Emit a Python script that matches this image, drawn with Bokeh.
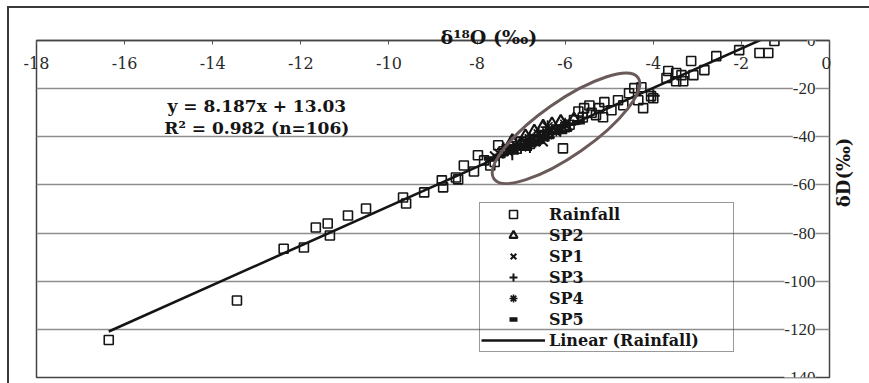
import math
from bokeh.plotting import figure
from bokeh.layouts import row
from bokeh.models import (ColumnDataSource, LabelSet, Label, Legend, LegendItem,
                          FixedTicker, Range1d, LinearAxis, Grid)
from bokeh.embed import file_html
from bokeh.resources import INLINE

# ---------------- data ----------------
rain_x = [-16.36, -13.45, -12.39, -11.93, -11.66, -11.39, -11.34, -10.93, -10.52, -9.68,
          -9.61, -9.2, -8.80, -8.77, -8.48, -8.43, -8.30, -8.07, -7.98, -7.84,
          -7.70, -7.60, -7.52, -6.05, -5.57, -5.23, -5.11, -5.14, -4.95, -4.80,
          -4.68, -4.55, -4.43, -4.27, -4.23, -4.34, -4.05, -4.0, -3.70, -3.66,
          -3.48, -3.36, -3.09, -3.48, -3.32, -3.14, -2.84, -2.57, -2.05, -1.59,
          -1.39, -1.25, -7.4, -7.2, -7.0, -6.8, -6.6, -6.4, -6.2, -6.0,
          -5.8, -5.6, -5.9, -6.7, -7.1, -5.4, -5.3, -5.7, -5.45]
rain_y = [-124.4, -108.0, -86.5, -86.0, -77.7, -76.0, -81.0, -72.7, -69.8, -65.2,
          -67.7, -63.1, -58.1, -61.0, -56.9, -57.7, -51.9, -54.4, -47.7, -49.8,
          -51.9, -50.5, -43.5, -44.8, -28.1, -28.1, -25.6, -31.9, -29.0, -24.8,
          -26.9, -21.9, -19.8, -19.4, -28.1, -24.8, -23.1, -24.0, -15.6, -12.7,
          -13.5, -14.4, -14.4, -16.9, -16.9, -8.5, -12.3, -6.5, -4.0, -5.2,
          -5.2, -0.2, -46.0, -44.0, -42.0, -43.0, -40.0, -38.0, -37.0, -36.0,
          -33.0, -32.0, -35.0, -41.0, -45.0, -30.0, -31.0, -29.5, -27.0]

sp2_x = [-6.5, -6.3, -6.7, -6.1, -6.9, -7.2, -6.0, -5.8, -6.4, -7.0]
sp2_y = [-36.0, -35.0, -38.0, -34.0, -40.0, -42.0, -36.0, -33.0, -39.0, -43.0]
sp1_x = [-7.3, -7.1, -6.9, -6.6, -6.4, -7.5, -6.2, -6.8, -7.6, -6.5]
sp1_y = [-46.0, -44.0, -43.0, -41.0, -39.0, -47.0, -38.0, -42.0, -48.0, -42.0]
sp3_x = [-7.4, -7.0, -6.6, -6.3, -5.9, -5.6, -4.0, -7.2, -6.8]
sp3_y = [-45.0, -43.0, -40.0, -38.0, -35.0, -32.0, -23.0, -47.0, -44.0]
sp4_x = [-6.4, -6.2, -6.6, -6.8, -7.0, -7.3, -6.0, -6.5, -6.9]
sp4_y = [-36.0, -37.0, -39.0, -41.0, -44.0, -45.0, -35.0, -40.0, -42.0]
sp5_x = [-7.5, -7.2, -6.9, -6.5, -6.1, -5.7, -7.7, -7.3, -6.7]
sp5_y = [-48.0, -46.0, -45.0, -41.0, -38.0, -34.0, -49.0, -44.0, -43.0]

slope = 8.187
intercept = 13.03

x_ticks = [-18, -16, -14, -12, -10, -8, -6, -4, -2, 0]
x_tick_labels = ["-18", "-16", "-14", "-12", "-10", "-8", "-6", "-4", "-2", "0"]
y_ticks = [0, -20, -40, -60, -80, -100, -120, -140]
y_tick_labels = ["0", "-20", "-40", "-60", "-80", "-100", "-120", "-140"]

ellipse_center_x = -5.98
ellipse_center_y = -36.5

# ---------------- figure ----------------
INK = "#151515"
SERIF = "DejaVu Serif"


def hide_default_grids(fig):
    for r in list(fig.center):
        if isinstance(r, Grid):
            r.visible = False


p = figure(width=822, height=375, x_range=Range1d(-18, 0), y_range=Range1d(-140, 0),
           output_backend="svg", toolbar_location=None,
           x_axis_location=None, y_axis_location=None,
           min_border_left=27, min_border_right=2, min_border_top=32, min_border_bottom=6)
hide_default_grids(p)
p.background_fill_color = "white"
p.border_fill_color = "white"
p.outline_line_color = "#444444"
p.outline_line_width = 1.5

# grid
p.add_layout(Grid(dimension=1, ticker=FixedTicker(ticks=y_ticks),
                  grid_line_color="#8e8e8e", grid_line_width=1.4))

# top x axis with labels drawn just inside the frame
xax = LinearAxis(ticker=FixedTicker(ticks=x_ticks),
                 major_label_overrides={t: l for t, l in zip(x_ticks, x_tick_labels)},
                 major_label_standoff=-28,
                 major_label_text_font=SERIF, major_label_text_font_size="16px",
                 major_label_text_color="#2a2a2a",
                 axis_line_color="#444444", axis_line_width=1.5,
                 major_tick_in=4, major_tick_out=0, major_tick_line_color="#555555",
                 minor_tick_line_color=None)
p.add_layout(xax, "above")

# x-axis title (sits on the top axis line)
p.title.text = "δ¹⁸O (‰)"
p.title.align = "left"
p.title.offset = 404
p.title.standoff = -14
p.title.vertical_align = "bottom"
p.title.text_font = SERIF
p.title.text_font_style = "bold"
p.title.text_font_size = "19px"
p.title.text_color = INK

# y tick labels next to the right-hand axis
ysrc = ColumnDataSource(dict(x=[0] * len(y_ticks), y=y_ticks, text=y_tick_labels))
p.add_layout(LabelSet(x="x", y="y", text="text", source=ysrc, x_offset=-14,
                      text_align="right", text_baseline="middle",
                      text_font="Lato", text_font_size="17px", text_color="#2a2a2a",
                      background_fill_color="white"))

# series
r_rain = p.scatter(rain_x, rain_y, marker="square", size=9, line_color=INK,
                   fill_alpha=0, line_width=1.6)
r_sp2 = p.scatter(sp2_x, sp2_y, marker="triangle", size=13, line_color=INK,
                  fill_alpha=0, line_width=2.2)
r_sp1 = p.scatter(sp1_x, sp1_y, marker="x", size=13, line_color=INK, line_width=2.0)
r_sp3 = p.scatter(sp3_x, sp3_y, marker="cross", size=13, line_color=INK, line_width=2.0)
r_sp4 = p.scatter(sp4_x, sp4_y, marker="asterisk", size=14, line_color=INK, line_width=1.6)
r_sp5 = p.scatter(sp5_x, sp5_y, marker="dash", size=13, line_color=INK, line_width=4.5)

lx = [min(rain_x), max(rain_x)]
ly = [slope * v + intercept for v in lx]
r_lin = p.line(lx, ly, line_color=INK, line_width=2.6)

# ellipse around the spring samples
p.ellipse(x=ellipse_center_x, y=ellipse_center_y, width=176, height=54,
          width_units="screen", height_units="screen", angle=35, angle_units="deg",
          fill_alpha=0, line_color="#6b5a5a", line_width=3)

# equation
p.add_layout(Label(x=-13.0, y=-27.3, text="y = 8.187x + 13.03", text_align="center",
                   text_baseline="middle", text_font=SERIF, text_font_style="bold",
                   text_font_size="17px", text_color=INK))
p.add_layout(Label(x=-13.0, y=-36.5, text="R² = 0.982 (n=106)", text_align="center",
                   text_baseline="middle", text_font=SERIF, text_font_style="bold",
                   text_font_size="17px", text_color=INK))

# legend
legend = Legend(items=[
    LegendItem(label="Rainfall", renderers=[r_rain]),
    LegendItem(label="SP2", renderers=[r_sp2]),
    LegendItem(label="SP1", renderers=[r_sp1]),
    LegendItem(label="SP3", renderers=[r_sp3]),
    LegendItem(label="SP4", renderers=[r_sp4]),
    LegendItem(label="SP5", renderers=[r_sp5]),
    LegendItem(label="Linear (Rainfall)", renderers=[r_lin]),
], location=(443, 25))
legend.label_text_font = SERIF
legend.label_text_font_style = "bold"
legend.label_text_font_size = "16px"
legend.label_text_color = INK
legend.label_height = 20
legend.glyph_height = 20
legend.glyph_width = 64
legend.label_width = 183
legend.label_standoff = 4
legend.spacing = 1
legend.padding = 1
legend.margin = 0
legend.border_line_color = "#333333"
legend.border_line_width = 1.5
legend.background_fill_alpha = 0
p.add_layout(legend)

# narrow side panel that carries the y-axis title
side = figure(width=38, height=375, x_range=Range1d(0, 1), y_range=Range1d(-140, 0),
              output_backend="svg", toolbar_location=None,
              x_axis_location=None, y_axis_location=None,
              min_border_left=0, min_border_right=0, min_border_top=32, min_border_bottom=6)
hide_default_grids(side)
side.outline_line_color = None
side.background_fill_color = "white"
side.border_fill_color = "white"
side.add_layout(Label(x=12 / 38, y=-54.8, text="δD(‰)", angle=math.pi / 2,
                      text_align="center", text_baseline="middle", text_font=SERIF,
                      text_font_style="bold", text_font_size="18px", text_color=INK))

layout = row(p, side, spacing=0,
             styles={"margin-left": "7px", "margin-top": "6px",
                     "border-left": "2px solid #3a3a3a", "border-top": "2px solid #3a3a3a"})

open("out.html", "w").write(file_html(layout, INLINE))
